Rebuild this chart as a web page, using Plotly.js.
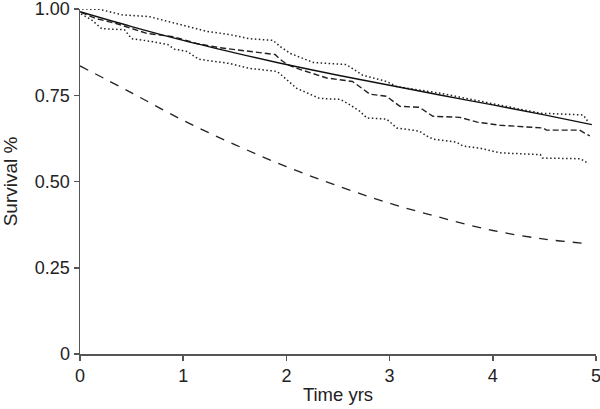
<!DOCTYPE html>
<html>
<head>
<meta charset="utf-8">
<script src="https://cdn.plot.ly/plotly-3.0.1.min.js"></script>
<style>html,body{margin:0;padding:0;background:#fff;}#chart{width:600px;height:409px;}</style>
</head>
<body>
<div id="chart"></div>
<script>
// Fitted (solid) survival curve
var fitT = [0, 0.5, 1, 1.5, 2, 2.5, 3, 3.5, 4, 4.5, 4.96];
var fitV = [0.992, 0.949, 0.909, 0.873, 0.839, 0.808, 0.779, 0.75, 0.722, 0.693, 0.665];

// Kaplan-Meier estimate (dashed)
var kmT = [0.01, 0.16, 0.35, 0.65, 0.9, 1.13, 1.35, 1.58, 1.89, 1.94, 2.01, 2.13, 2.29, 2.39, 2.64, 2.73, 2.81, 2.97, 3.10, 3.29, 3.42, 3.68, 3.85, 4.07, 4.49, 4.52, 4.84, 4.89, 4.94];
var kmV = [0.99, 0.972, 0.958, 0.929, 0.92, 0.90, 0.888, 0.88, 0.868, 0.854, 0.839, 0.825, 0.81, 0.80, 0.79, 0.77, 0.753, 0.747, 0.718, 0.715, 0.689, 0.686, 0.672, 0.663, 0.655, 0.649, 0.649, 0.64, 0.632];

// Upper confidence bound (dotted)
var upT = [0.02, 0.19, 0.41, 0.67, 0.97, 1.23, 1.45, 1.64, 1.87, 1.94, 2.04, 2.26, 2.58, 2.74, 2.97, 3.07, 3.49, 3.97, 4.46, 4.87, 4.91, 4.92];
var upV = [1.0, 0.999, 0.983, 0.978, 0.955, 0.935, 0.926, 0.914, 0.909, 0.891, 0.871, 0.845, 0.839, 0.808, 0.79, 0.775, 0.756, 0.727, 0.698, 0.693, 0.681, 0.669];

// Lower confidence bound (dotted)
var loT = [0.01, 0.11, 0.21, 0.43, 0.50, 0.69, 0.85, 0.92, 1.04, 1.11, 1.16, 1.45, 1.64, 1.91, 2.00, 2.10, 2.32, 2.52, 2.59, 2.71, 2.78, 2.97, 3.07, 3.29, 3.36, 3.42, 3.65, 3.71, 3.87, 4.00, 4.07, 4.46, 4.48, 4.85, 4.93];
var loV = [0.986, 0.969, 0.943, 0.94, 0.914, 0.906, 0.897, 0.883, 0.877, 0.862, 0.854, 0.842, 0.828, 0.819, 0.796, 0.77, 0.741, 0.738, 0.727, 0.704, 0.684, 0.681, 0.655, 0.646, 0.632, 0.623, 0.614, 0.603, 0.597, 0.588, 0.583, 0.578, 0.568, 0.566, 0.551];

// Reference population curve (long dashes)
var refT = [0, 0.5, 1, 1.5, 2, 2.5, 3, 3.5, 4, 4.5, 4.92];
var refV = [0.835, 0.757, 0.677, 0.607, 0.543, 0.487, 0.437, 0.395, 0.358, 0.333, 0.32];

var xTicks = [0, 1, 2, 3, 4, 5];
var yTicks = [0, 0.25, 0.5, 0.75, 1.0];
var yTickText = ['0', '0.25', '0.50', '0.75', '1.00'];

var traces = [
  {x: refT, y: refV, mode: 'lines', line: {color: '#222', width: 1.3, dash: '9px,8px', shape: 'spline'}},
  {x: upT, y: upV, mode: 'lines', line: {color: '#222', width: 1.5, dash: '1.5px,2.5px'}},
  {x: loT, y: loV, mode: 'lines', line: {color: '#222', width: 1.5, dash: '1.5px,2.5px'}},
  {x: kmT, y: kmV, mode: 'lines', line: {color: '#222', width: 1.4, dash: '6px,3px'}},
  {x: fitT, y: fitV, mode: 'lines', line: {color: '#111', width: 1.4, shape: 'spline'}}
];

var layout = {
  width: 600, height: 409,
  margin: {l: 80, r: 4, t: 9, b: 55},
  paper_bgcolor: '#fff', plot_bgcolor: '#fff',
  showlegend: false,
  font: {family: 'Liberation Sans, Arial, sans-serif', size: 18, color: '#222'},
  xaxis: {
    range: [0, 5], tickvals: xTicks, ticktext: xTicks.map(String),
    showgrid: false, zeroline: false, showline: true, linecolor: '#555', linewidth: 1.5,
    ticks: 'outside', ticklen: 5, tickcolor: '#555', tickwidth: 1.5,
    ticklabeloverflow: 'allow', automargin: false,
    tickfont: {size: 18, color: '#222'},
    title: {text: 'Time yrs', font: {size: 18.5, color: '#222'}, standoff: 3}
  },
  yaxis: {
    range: [0, 1], tickvals: yTicks, ticktext: yTickText,
    showgrid: false, zeroline: false, showline: true, linecolor: '#555', linewidth: 1.5,
    ticks: 'outside', ticklen: 5, tickcolor: '#555', tickwidth: 1.5,
    ticklabeloverflow: 'allow', automargin: false,
    tickfont: {size: 18, color: '#222'},
    title: {text: 'Survival %', font: {size: 19, color: '#222'}, standoff: 17}
  }
};

Plotly.newPlot('chart', traces, layout, {staticPlot: true, displayModeBar: false});
</script>
</body>
</html>
